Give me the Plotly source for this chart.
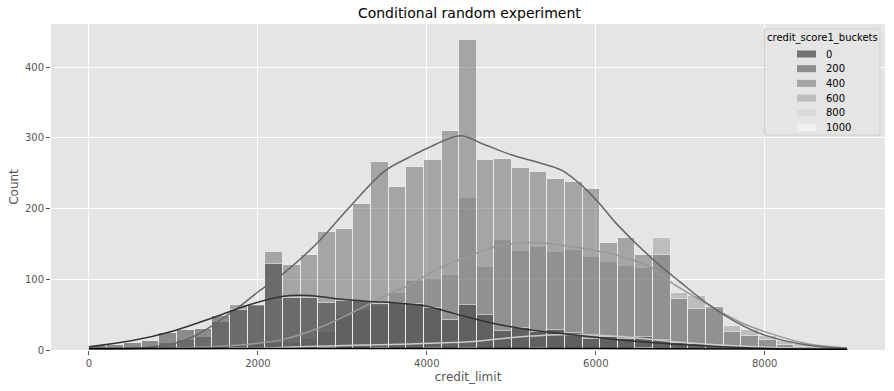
import plotly.graph_objects as go

# ---- data ----
bin_start = 0.0
bin_width = 208.72  # 43 common bins over [0, 8975]

buckets = ["0", "200", "400", "600", "800", "1000"]
colors = {"0": "#000000", "200": "#333333", "400": "#666666",
          "600": "#999999", "800": "#cccccc", "1000": "#ffffff"}

counts_0 = [2, 2, 2, 2, 2, 3, 2, 2, 3, 2, 3, 2, 2, 3, 2, 2, 3, 2, 2, 3, 2, 3,
            2, 2, 2, 3, 2, 2, 2, 2, 2, 3, 2, 2, 2, 2, 2, 1, 2, 2, 1, 2, 1]
counts_200 = [5, 7, 10, 13, 24, 28, 30, 48, 57, 64, 121, 73, 74, 67, 70, 69, 65,
              66, 65, 60, 43, 64, 49, 27, 31, 26, 28, 24, 16, 19, 16, 18, 14,
              10, 8, 6, 4, 3, 2, 1, 1, 0, 0]
counts_400 = [1, 1, 3, 4, 10, 14, 18, 39, 63, 62, 138, 120, 134, 167, 171, 207,
              266, 231, 259, 269, 310, 439, 269, 270, 257, 252, 242, 237, 227,
              152, 158, 135, 135, 72, 58, 61, 26, 20, 14, 7, 4, 2, 1]
counts_600 = [0, 0, 0, 1, 1, 2, 2, 4, 6, 8, 10, 12, 15, 26, 48, 56, 62, 80, 97,
              100, 106, 215, 118, 156, 140, 145, 138, 141, 131, 124, 119, 116,
              159, 80, 76, 58, 34, 28, 20, 13, 8, 5, 3]
counts_800 = [0, 0, 0, 0, 1, 0, 1, 1, 1, 1, 2, 3, 3, 4, 5, 6, 7, 8, 10, 10, 11,
              12, 13, 15, 17, 18, 20, 21, 21, 22, 20, 19, 18, 16, 14, 12, 10, 8,
              6, 5, 3, 2, 1]
counts_1000 = [0, 0, 0, 0, 0, 0, 0, 0, 0, 0, 1, 0, 0, 0, 1, 0, 0, 1, 0, 0, 1, 1,
               0, 1, 0, 1, 1, 0, 1, 1, 0, 1, 1, 0, 1, 0, 0, 1, 0, 0, 0, 0, 0]

# KDE curves (count-scaled), read at sample points
kde_x_0 = [0, 2000, 4000, 6000, 8000, 8975]
kde_y_0 = [2, 2, 2, 2, 1.5, 1]
kde_x_200 = [0, 500, 1000, 1500, 1900, 2300, 2600, 2900, 3300, 3700, 4000, 4250,
             4500, 4850, 5250, 5700, 6300, 6900, 7700, 8400, 8975]
kde_y_200 = [4.5, 13, 27, 47, 64, 76, 77, 73, 69, 66, 62, 54, 46, 36, 28, 22, 14,
             8.5, 3.7, 1.5, 1]
kde_x_400 = [0, 500, 800, 1000, 1200, 1400, 1600, 1800, 2000, 2300, 2700, 3100,
             3500, 3800, 4000, 4400, 4650, 5000, 5350, 5600, 5850, 6050, 6250,
             6650, 7000, 7350, 7700, 8000, 8500, 8975]
kde_y_400 = [1, 2, 5, 9, 17, 30, 46, 63, 82, 108, 151, 204, 253, 273, 285, 303,
             292, 276, 264, 254, 231, 206, 178, 131, 96, 63, 37, 21, 7, 2]
kde_x_600 = [0, 500, 1000, 1500, 2000, 2300, 2700, 3100, 3500, 3800, 4100, 4500,
             4850, 5250, 5550, 5850, 6250, 6650, 6900, 7350, 7700, 8000, 8500, 8975]
kde_y_600 = [0.3, 1, 2.5, 5, 9.5, 15, 30, 52, 76, 92, 113, 133, 147, 152, 149,
             144, 134, 117, 95, 63, 40, 26, 9, 3]
kde_x_800 = [0, 1000, 2000, 2500, 3300, 4300, 4550, 5150, 5700, 6300, 6900,
             7700, 8500, 8975]
kde_y_800 = [0.3, 1, 2.5, 4.7, 7, 10.5, 12, 19, 22, 19, 12, 5.7, 2, 1]
kde_x_1000 = [0, 3000, 6000, 8975]
kde_y_1000 = [0.4, 0.5, 0.5, 0.4]

x_ticks = [0, 2000, 4000, 6000, 8000]
y_ticks = [0, 100, 200, 300, 400]

counts = {"0": counts_0, "200": counts_200, "400": counts_400,
          "600": counts_600, "800": counts_800, "1000": counts_1000}
kdes = {"0": (kde_x_0, kde_y_0), "200": (kde_x_200, kde_y_200),
        "400": (kde_x_400, kde_y_400), "600": (kde_x_600, kde_y_600),
        "800": (kde_x_800, kde_y_800), "1000": (kde_x_1000, kde_y_1000)}

centers = [bin_start + bin_width * (i + 0.5) for i in range(len(counts_400))]

FONT = "DejaVu Sans"
W, H = 894, 391
ML, MR, MT, MB = 51, 9, 24, 41
PW, PH = W - ML - MR, H - MT - MB

def px_x(px):
    return (px - ML) / PW

def px_y(py):
    return (H - MB - py) / PH

fig = go.Figure()

# bars: last hue level drawn first (bottom), level 0 on top
for b in reversed(buckets):
    fig.add_trace(go.Bar(
        x=centers, y=counts[b], width=bin_width, name=b,
        marker=dict(color=colors[b], line=dict(color="#EEEEEE", width=1)),
        opacity=0.5, showlegend=False, hoverinfo="x+y+name",
    ))

for b in reversed(buckets):
    kx, ky = kdes[b]
    fig.add_trace(go.Scatter(
        x=kx, y=ky, mode="lines", line=dict(color=colors[b], width=1.5, shape="spline"),
        showlegend=False, hoverinfo="skip",
    ))

# legend (seaborn style: title on top, wide flat patches)
shapes = [dict(type="rect", xref="paper", yref="paper",
               x0=px_x(764.5), x1=px_x(880), y0=px_y(135), y1=px_y(29),
               fillcolor="rgba(229,229,229,0.8)", line=dict(color="#d0d0d0", width=1),
               layer="above")]
annotations = [dict(text="credit_score1_buckets", xref="paper", yref="paper",
                    x=px_x(822), y=px_y(38), xanchor="center", yanchor="middle",
                    showarrow=False, font=dict(family=FONT, size=10, color="black"))]
for i, b in enumerate(buckets):
    cy = 54 + i * 14.7
    shapes.append(dict(type="rect", xref="paper", yref="paper",
                       x0=px_x(797), x1=px_x(816), y0=px_y(cy + 3.5), y1=px_y(cy - 3.5),
                       fillcolor=colors[b], opacity=0.5, line=dict(width=0),
                       layer="above"))
    annotations.append(dict(text=b, xref="paper", yref="paper",
                            x=px_x(824), y=px_y(cy), xanchor="left", yanchor="middle",
                            showarrow=False, font=dict(family=FONT, size=10, color="black")))

fig.update_layout(
    width=W, height=H,
    margin=dict(l=ML, r=MR, t=MT, b=MB),
    paper_bgcolor="white", plot_bgcolor="#E5E5E5",
    barmode="overlay", bargap=0,
    font=dict(family=FONT, size=10, color="#555555"),
    title=dict(text="Conditional random experiment", x=0.525, xanchor="center",
               y=1 - 13.5 / H, yanchor="middle",
               font=dict(family=FONT, size=14, color="black")),
    showlegend=False,
    shapes=shapes, annotations=annotations,
    xaxis=dict(
        range=[-449, 9424], tickvals=x_ticks,
        showgrid=True, gridcolor="white", gridwidth=1, zeroline=False, showline=False,
        ticks="outside", ticklen=4, tickcolor="#555555",
        tickfont=dict(family=FONT, size=10, color="#555555"),
        title=dict(text="credit_limit", standoff=4,
                   font=dict(family=FONT, size=12, color="#555555")),
        automargin=False,
    ),
    yaxis=dict(
        range=[0, 461], tickvals=y_ticks,
        showgrid=True, gridcolor="white", gridwidth=1, zeroline=False, showline=False,
        ticks="outside", ticklen=4, tickcolor="#555555",
        tickfont=dict(family=FONT, size=10, color="#555555"),
        title=dict(text="Count", standoff=3,
                   font=dict(family=FONT, size=12, color="#555555")),
        automargin=False,
    ),
)

fig.write_html("out.html", config={"displayModeBar": False},
               post_script="document.body.style.margin='0';")
